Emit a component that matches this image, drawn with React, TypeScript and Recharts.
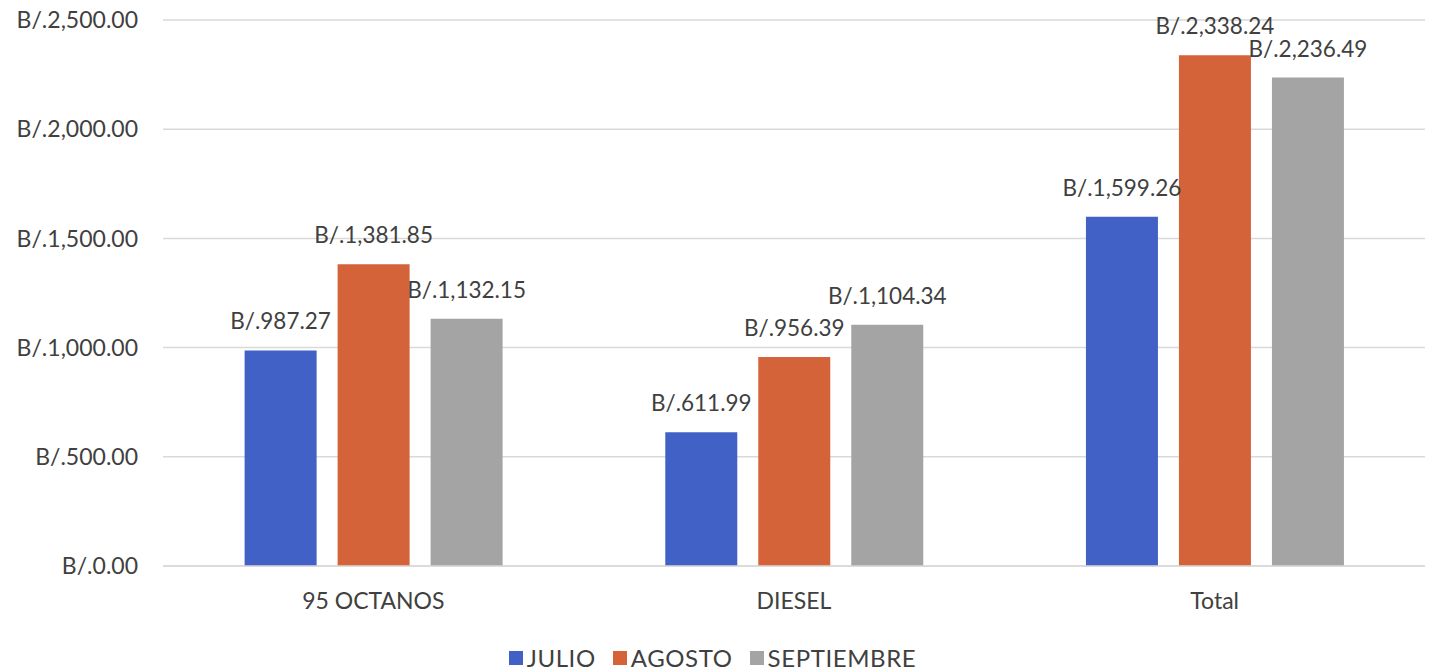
import { BarChart, Bar, XAxis, YAxis, CartesianGrid, Legend, LabelList } from "recharts";

const CATEGORIES = ["95 OCTANOS", "DIESEL", "Total"];
const JULIO = [987.27, 611.99, 1599.26];
const AGOSTO = [1381.85, 956.39, 2338.24];
const SEPTIEMBRE = [1132.15, 1104.34, 2236.49];
const Y_TICKS = [0, 500, 1000, 1500, 2000, 2500];

const SERIES = [
  { key: "JULIO", color: "#4161C7" },
  { key: "AGOSTO", color: "#D5633A" },
  { key: "SEPTIEMBRE", color: "#A4A4A4" },
];

const TEXT = "#404040";
const FONT = "Lato, 'Open Sans', sans-serif";

const money = (v: number) =>
  "B/." +
  v.toLocaleString("en-US", { minimumFractionDigits: 2, maximumFractionDigits: 2 });

const data = CATEGORIES.map((name, i) => ({
  name,
  JULIO: JULIO[i],
  AGOSTO: AGOSTO[i],
  SEPTIEMBRE: SEPTIEMBRE[i],
}));

function LegendRow() {
  return (
    <div
      style={{
        display: "flex",
        justifyContent: "center",
        alignItems: "center",
        gap: 17,
        height: 45,
        boxSizing: "border-box",
        paddingTop: 19,
        fontFamily: FONT,
        fontSize: 24,
        letterSpacing: 0.6,
        lineHeight: "26px",
        color: TEXT,
      }}
    >
      {SERIES.map((s) => (
        <span key={s.key} style={{ display: "flex", alignItems: "center" }}>
          <span
            style={{ width: 14, height: 14, background: s.color, display: "inline-block", marginRight: 4 }}
          />
          {s.key}
        </span>
      ))}
    </div>
  );
}

export default function App() {
  return (
    <div style={{ position: "absolute", top: 0, left: 0, background: "#fff", fontFamily: FONT }}>
      <BarChart
        width={1432}
        height={671}
        data={data}
        margin={{ top: 20, right: 7, bottom: 0, left: 0 }}
        barCategoryGap="19.4%"
        barGap={21}
      >
        <CartesianGrid vertical={false} stroke="#D9D9D9" strokeWidth={1.5} />
        <XAxis
          dataKey="name"
          height={60}
          axisLine={{ stroke: "#D9D9D9", strokeWidth: 1.5 }}
          tickLine={false}
          tickMargin={21}
          tick={{ fill: TEXT, fontSize: 23, fontFamily: FONT }}
        />
        <YAxis
          width={163}
          domain={[0, 2500]}
          ticks={Y_TICKS}
          tickFormatter={money}
          axisLine={false}
          tickLine={false}
          tickMargin={19}
          tick={{ fill: TEXT, fontSize: 23, fontFamily: FONT }}
        />
        <Legend verticalAlign="bottom" height={45} content={() => <LegendRow />} />
        {SERIES.map((s) => (
          <Bar key={s.key} dataKey={s.key} fill={s.color} isAnimationActive={false}>
            <LabelList
              dataKey={s.key}
              position="top"
              offset={21}
              formatter={(v) => money(Number(v))}
              style={{ fill: TEXT, fontSize: 22.5, fontFamily: FONT }}
            />
          </Bar>
        ))}
      </BarChart>
    </div>
  );
}
